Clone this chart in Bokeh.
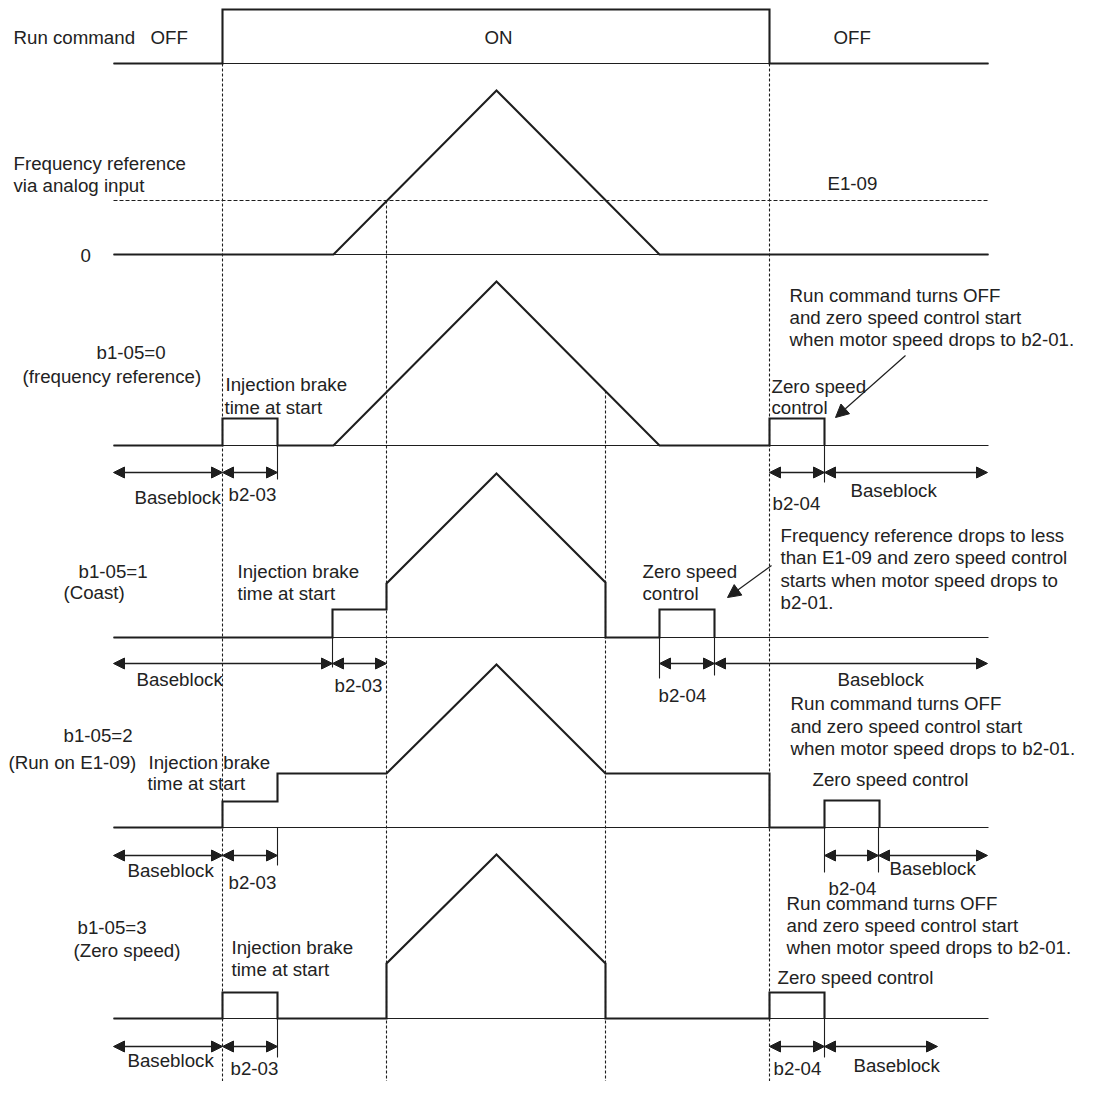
from bokeh.plotting import figure
from bokeh.models import Range1d, ColumnDataSource, Arrow, NormalHead
from bokeh.core.properties import value
from bokeh.embed import file_html
from bokeh.resources import INLINE

# ---------------- data: timing events (time axis, px-like units) ----------------
T_BEGIN, T_FINISH = 113, 988

# Run command (level 0 = OFF, 54 = ON)
RUN_T = [113, 222, 222, 769, 769, 988]
RUN_L = [0, 0, 54, 54, 0, 0]

# Frequency reference via analog input
FREF_T = [113, 333, 496, 659, 988]
FREF_L = [0, 0, 164, 0, 0]
E1_09_LEVEL = 54

# b1-05 = 0 (frequency reference)
B0_T = [113, 222, 222, 277, 277, 333, 496, 659, 769, 769, 824, 824]
B0_L = [0, 0, 27, 27, 0, 0, 164, 0, 0, 27, 27, 0]

# b1-05 = 1 (Coast)
B1_T = [113, 332, 332, 386, 386, 496, 605, 605, 659, 659, 714, 714]
B1_L = [0, 0, 28, 28, 54, 164, 55, 0, 0, 28, 28, 0]

# b1-05 = 2 (Run on E1-09)
B2_T = [113, 222, 222, 277, 277, 386, 496, 605, 769, 769, 824, 824, 879, 879]
B2_L = [0, 0, 26, 26, 54, 54, 163, 54, 54, 0, 0, 27, 27, 0]

# b1-05 = 3 (Zero speed)
B3_T = [113, 222, 222, 277, 277, 386, 386, 496, 605, 605, 769, 769, 824, 824]
B3_L = [0, 0, 26, 26, 0, 0, 55, 164, 55, 0, 0, 26, 26, 0]

# baselines (row positions on the page)
ROW_BASE = {"run": 63, "fref": 254, "b0": 445, "b1": 637, "b2": 827, "b3": 1018}

# vertical event markers (time, top row y)
MARK_T = [222, 386, 605, 769]
MARK_TOP = [63, 200, 390, 63]
MARK_BOTTOM = 1095

# interval arrows: (t0, t1, y)
SPANS = [
    (113, 222, 472), (222, 277, 472), (769, 824, 472), (824, 987, 472),
    (113, 332, 663), (332, 386, 663), (659, 714, 663), (714, 987, 663),
    (113, 222, 855), (222, 277, 855), (824, 878, 855), (878, 987, 855),
    (113, 222, 1046), (222, 277, 1046), (769, 824, 1046), (824, 937, 1046),
]
# tick lines (t, y0, y1)
TICKS = [
    (277, 445, 479), (824, 445, 482),
    (332, 637, 667), (659, 637, 678), (714, 637, 675),
    (277, 827, 865), (824, 827, 872), (878, 827, 872),
    (277, 1018, 1057), (824, 1018, 1057),
]
# pointer arrows (x0, y0, x1, y1)
POINTERS = [(905, 355, 835, 417), (771, 565, 727, 597)]

LABELS = [
    ("Run command", 13, 37), ("OFF", 150, 37), ("ON", 484, 37), ("OFF", 833, 37),
    ("Frequency reference", 13, 163), ("via analog input", 13, 185),
    ("0", 80, 255), ("E1-09", 827, 183),
    ("b1-05=0", 96, 352), ("(frequency reference)", 22, 376),
    ("Injection brake", 225, 384), ("time at start", 224, 407),
    ("Baseblock", 134, 497), ("b2-03", 228, 494),
    ("Run command turns OFF", 789, 295), ("and zero speed control start", 789, 317),
    ("when motor speed drops to b2-01.", 789, 339),
    ("Zero speed", 771, 386), ("control", 771, 407),
    ("b2-04", 772, 503), ("Baseblock", 850, 490),
    ("b1-05=1", 78, 571), ("(Coast)", 63, 592),
    ("Injection brake", 237, 571), ("time at start", 237, 593),
    ("Baseblock", 136, 679), ("b2-03", 334, 685),
    ("Zero speed", 642, 571), ("control", 642, 593),
    ("b2-04", 658, 695), ("Baseblock", 837, 679),
    ("Frequency reference drops to less", 780, 535),
    ("than E1-09 and zero speed control", 780, 557),
    ("starts when motor speed drops to", 780, 580), ("b2-01.", 780, 602),
    ("b1-05=2", 63, 735), ("(Run on E1-09)", 8, 762),
    ("Injection brake", 148, 762), ("time at start", 147, 783),
    ("Baseblock", 127, 870), ("b2-03", 228, 882),
    ("Run command turns OFF", 790, 703), ("and zero speed control start", 790, 726),
    ("when motor speed drops to b2-01.", 790, 748),
    ("Zero speed control", 812, 779), ("b2-04", 828, 888), ("Baseblock", 889, 868),
    ("b1-05=3", 77, 927), ("(Zero speed)", 73, 950),
    ("Injection brake", 231, 947), ("time at start", 231, 969),
    ("Baseblock", 127, 1060), ("b2-03", 230, 1068),
    ("Run command turns OFF", 786, 903), ("and zero speed control start", 786, 925),
    ("when motor speed drops to b2-01.", 786, 947),
    ("Zero speed control", 777, 977), ("b2-04", 773, 1068), ("Baseblock", 853, 1065),
]

# ---------------- figure ----------------
INK = "#1e1e1e"
p = figure(width=1077, height=1081, x_range=Range1d(0, 1077), y_range=Range1d(1081, 0),
           min_border=0, toolbar_location=None, output_backend="svg",
           x_axis_location=None, y_axis_location=None)
p.grid.visible = False
p.outline_line_color = None
p.background_fill_color = "white"
p.border_fill_color = "white"

# thin baselines
for key, base in ROW_BASE.items():
    p.line([T_BEGIN, T_FINISH], [base, base], line_color=INK, line_width=1.1)

# E1-09 dashed
p.line([T_BEGIN, T_FINISH], [ROW_BASE["fref"] - E1_09_LEVEL] * 2,
       line_color=INK, line_width=1.1, line_dash="4 2")

# vertical dashed markers
p.segment(x0=MARK_T, y0=MARK_TOP, x1=MARK_T, y1=[MARK_BOTTOM] * len(MARK_T),
          line_color=INK, line_width=1.1, line_dash="3 2")

# waveforms
traces = [(RUN_T, RUN_L, "run"), (FREF_T, FREF_L, "fref"), (B0_T, B0_L, "b0"),
          (B1_T, B1_L, "b1"), (B2_T, B2_L, "b2"), (B3_T, B3_L, "b3")]
for ts, ls, key in traces:
    base = ROW_BASE[key]
    p.line(ts, [base - v for v in ls], line_color=INK, line_width=2.1,
           line_join="miter")

# ticks
p.segment(x0=[t[0] for t in TICKS], y0=[t[1] for t in TICKS],
          x1=[t[0] for t in TICKS], y1=[t[2] for t in TICKS],
          line_color=INK, line_width=1.1)

# interval arrows
span_src = ColumnDataSource(dict(x0=[s[0] for s in SPANS], x1=[s[1] for s in SPANS],
                                 y=[s[2] for s in SPANS]))
p.add_layout(Arrow(source=span_src, x_start="x0", y_start="y", x_end="x1", y_end="y",
                   line_color=INK, line_width=1.3,
                   start=NormalHead(size=11, fill_color=INK, line_color=INK, line_width=1),
                   end=NormalHead(size=11, fill_color=INK, line_color=INK, line_width=1)))

# pointer arrows
ptr_src = ColumnDataSource(dict(x0=[a[0] for a in POINTERS], y0=[a[1] for a in POINTERS],
                                x1=[a[2] for a in POINTERS], y1=[a[3] for a in POINTERS]))
p.add_layout(Arrow(source=ptr_src, x_start="x0", y_start="y0", x_end="x1", y_end="y1",
                   line_color=INK, line_width=1.2,
                   end=NormalHead(size=13, fill_color=INK, line_color=INK, line_width=1)))

# labels
lab_src = ColumnDataSource(dict(text=[l[0] for l in LABELS], x=[l[1] for l in LABELS],
                                y=[l[2] for l in LABELS]))
p.text(x="x", y="y", text="text", source=lab_src, text_font=value("Liberation Sans"),
       text_font_size="18.7px", text_baseline="middle", text_align="left",
       text_color="#222222")

open("out.html", "w").write(file_html(p, INLINE))
